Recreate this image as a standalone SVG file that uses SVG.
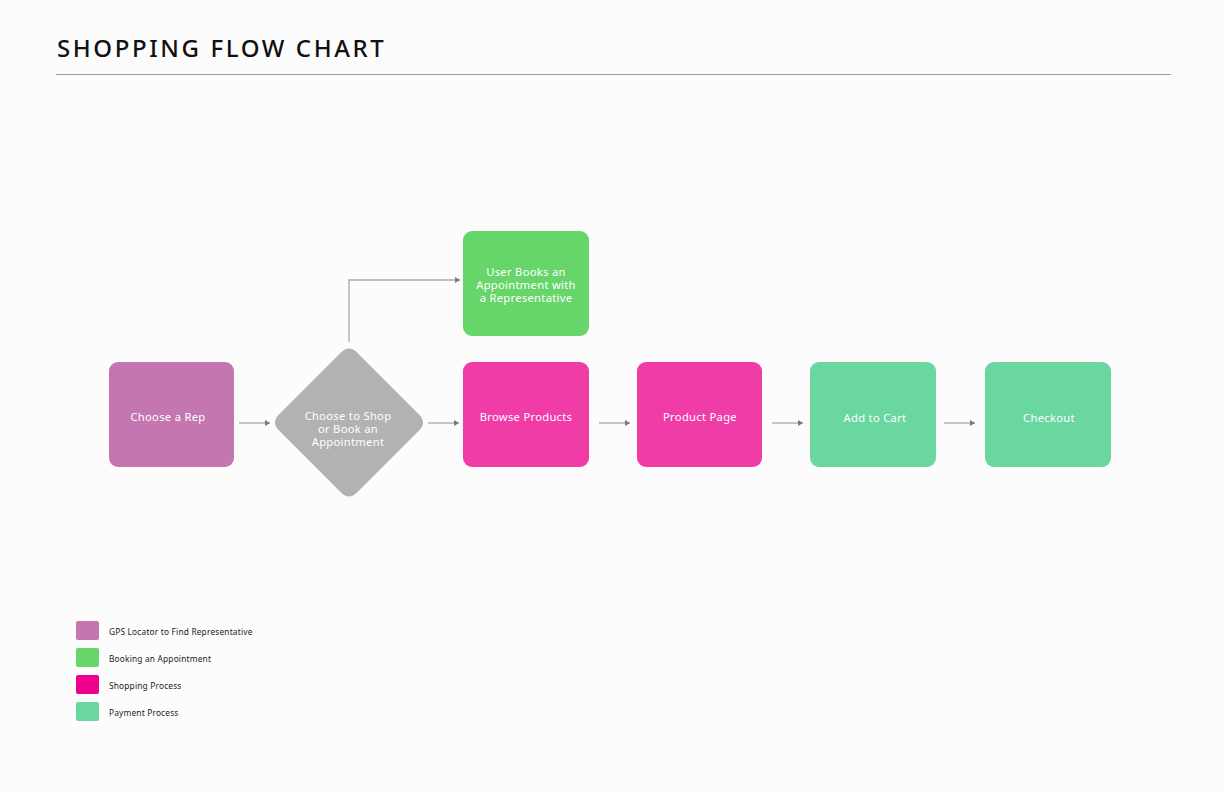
<svg xmlns="http://www.w3.org/2000/svg" width="1224" height="792" viewBox="0 0 1224 792">
<defs>
<marker id="arr" markerWidth="6" markerHeight="6" refX="5" refY="3" orient="auto" markerUnits="userSpaceOnUse">
<path d="M0,0 L5,3 L0,6 Z" fill="#7a7a7a"/>
</marker>
<style>
.title{font-family:"Noto Sans","DejaVu Sans",sans-serif;font-size:24px;letter-spacing:2.6px;fill:#111;font-weight:500}
.lbl{font-family:"Noto Sans","Open Sans",sans-serif;font-size:11.2px;letter-spacing:0.3px;fill:#fff;text-anchor:middle}
.leg{font-family:"Noto Sans","Open Sans",sans-serif;font-size:8.3px;letter-spacing:0.2px;fill:#222}
.conn{stroke:#a8a8a8;stroke-width:1.3;fill:none;marker-end:url(#arr)}
.purple{fill:#C376B0}
.green{fill:#66D66A}
.pink{fill:#F03CA7}
.mint{fill:#6AD6A0}
.grey{fill:#B2B2B2}
</style>
</defs>
<rect x="0" y="0" width="1224" height="792" fill="#fcfcfc"/>
<text class="title" x="57" y="57">SHOPPING FLOW CHART</text>
<line x1="56" y1="74.5" x2="1171" y2="74.5" stroke="#9a9a9a" stroke-width="1"/>

<g id="connectors">
<line class="conn" x1="239" y1="423" x2="270" y2="423"/>
<line class="conn" x1="428" y1="423" x2="459" y2="423"/>
<polyline class="conn" points="349,342 349,280 460,280"/>
<line class="conn" x1="599" y1="423" x2="630" y2="423"/>
<line class="conn" x1="772" y1="423" x2="803" y2="423"/>
<line class="conn" x1="944" y1="423" x2="975" y2="423"/>
</g>

<g id="choose-rep">
<rect class="purple" x="109" y="362" width="125" height="105" rx="9"/>
<text class="lbl" x="168" y="421">Choose a Rep</text>
</g>
<g id="decision">
<path class="grey" d="M341,352.5 Q349,344.5 357,352.5 L419,414.5 Q427,422.5 419,430.5 L357,492.5 Q349,500.5 341,492.5 L279,430.5 Q271,422.5 279,414.5 Z"/>
<text class="lbl" x="348" y="420">Choose to Shop</text>
<text class="lbl" x="348" y="433">or Book an</text>
<text class="lbl" x="348" y="446">Appointment</text>
</g>
<g id="book-appointment">
<rect class="green" x="463" y="231" width="126" height="105" rx="9"/>
<text class="lbl" x="526" y="276">User Books an</text>
<text class="lbl" x="526" y="289">Appointment with</text>
<text class="lbl" x="526" y="302">a Representative</text>
</g>
<g id="browse-products">
<rect class="pink" x="463" y="362" width="126" height="105" rx="9"/>
<text class="lbl" x="526" y="421">Browse Products</text>
</g>
<g id="product-page">
<rect class="pink" x="637" y="362" width="125" height="105" rx="9"/>
<text class="lbl" x="700" y="421">Product Page</text>
</g>
<g id="add-to-cart">
<rect class="mint" x="810" y="362" width="126" height="105" rx="9"/>
<text class="lbl" x="875" y="422">Add to Cart</text>
</g>
<g id="checkout">
<rect class="mint" x="985" y="362" width="126" height="105" rx="9"/>
<text class="lbl" x="1049" y="422">Checkout</text>
</g>

<g id="legend">
<rect x="76" y="621" width="23" height="19" rx="2" fill="#C376B0"/>
<text class="leg" x="109" y="634.5">GPS Locator to Find Representative</text>
<rect x="76" y="648" width="23" height="19" rx="2" fill="#66D66A"/>
<text class="leg" x="109" y="661.5">Booking an Appointment</text>
<rect x="76" y="675" width="23" height="19" rx="2" fill="#EC008C"/>
<text class="leg" x="109" y="688.5">Shopping Process</text>
<rect x="76" y="702" width="23" height="19" rx="2" fill="#6AD6A0"/>
<text class="leg" x="109" y="715.5">Payment Process</text>
</g>
</svg>
